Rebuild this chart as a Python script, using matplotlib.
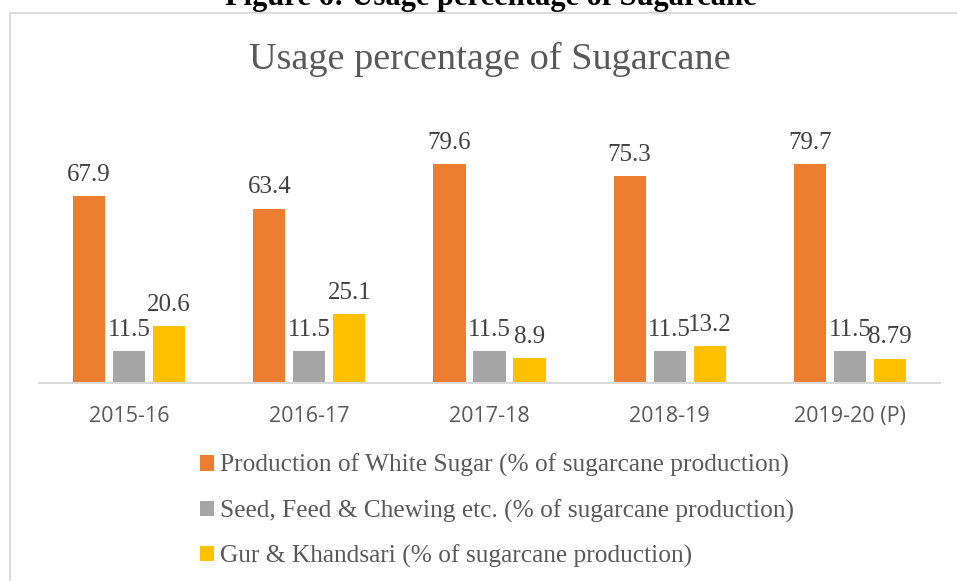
import matplotlib
matplotlib.use("Agg")
import matplotlib.pyplot as plt
from matplotlib.patches import Rectangle, Patch
import numpy as np

categories = ["2015-16", "2016-17", "2017-18", "2018-19", "2019-20 (P)"]
white_sugar = [67.9, 63.4, 79.6, 75.3, 79.7]
seed_feed = [11.5, 11.5, 11.5, 11.5, 11.5]
gur_khandsari = [20.6, 25.1, 8.9, 13.2, 8.79]
series_names = [
    "Production of White Sugar (% of sugarcane production)",
    "Seed, Feed & Chewing etc. (% of sugarcane production)",
    "Gur & Khandsari (% of sugarcane production)",
]
label_texts = [
    ["67.9", "63.4", "79.6", "75.3", "79.7"],
    ["11.5", "11.5", "11.5", "11.5", "11.5"],
    ["20.6", "25.1", "8.9", "13.2", "8.79"],
]
colors = ["#ED7D31", "#A5A5A5", "#FFC000"]

W, H = 957, 581
fig = plt.figure(figsize=(W / 100, H / 100), dpi=100)
fig.patch.set_facecolor("white")

def fx(px):
    return px / W

def fy(py):
    return 1 - py / H

# chart border
fig.patches.append(Rectangle((fx(9.5), fy(H + 20)), fx(W + 20), (H + 20 - 12.5) / H,
                             transform=fig.transFigure, fill=False,
                             edgecolor="#D9D9D9", linewidth=1.3, zorder=0))

# cut-off caption at top
fig.text(fx(491), fy(5), "Figure 6: Usage percentage of Sugarcane", ha="center", va="baseline",
         fontsize=22, fontweight="bold", family="Liberation Serif", color="black")

# title
fig.text(fx(490), fy(59), "Usage percentage of Sugarcane", ha="center", va="center",
         fontsize=27.5, family="Liberation Serif", color="#595959")

base_py = 382.7
px_per_unit = 2.744
ymax = 90
ax_h = ymax * px_per_unit
ax = fig.add_axes([fx(39), fy(base_py), fx(940) - fx(39), ax_h / H])
ax.set_xlim(-0.5, len(categories) - 0.5)
ax.set_ylim(0, ymax)

x = np.arange(len(categories))
bw = 0.178
offs = [-0.222, 0.0, 0.222]
data = [white_sugar, seed_feed, gur_khandsari]
for i, (vals, c, name) in enumerate(zip(data, colors, series_names)):
    bars = ax.bar(x + offs[i], vals, width=bw, color=c, label=name, zorder=2)
    for b, t in zip(bars, label_texts[i]):
        ax.annotate(t, (b.get_x() + b.get_width() / 2, b.get_height()),
                    xytext=(0, 11), textcoords="offset points", ha="center", va="baseline",
                    fontsize=18, family="Liberation Serif", color="#404040")

for s in ["top", "left", "right"]:
    ax.spines[s].set_visible(False)
ax.spines["bottom"].set_color("#D9D9D9")
ax.spines["bottom"].set_linewidth(1.5)
ax.set_yticks([])
ax.set_xticks(x)
ax.set_xticklabels(categories, fontsize=15.5, family="Open Sans", color="#595959")
ax.tick_params(axis="x", length=0, pad=17)
ax.set_facecolor("none")

handles = [Patch(facecolor=c, edgecolor="none") for c in colors]
leg = fig.legend(handles, series_names, loc="upper left", bbox_to_anchor=(fx(200), fy(454)),
                 frameon=False, ncol=1, handlelength=0.55, handleheight=0.55, handletextpad=0.25,
                 labelspacing=0.86, borderpad=0, borderaxespad=0,
                 prop={"family": "Liberation Serif", "size": 18.3})
for t in leg.get_texts():
    t.set_color("#595959")

fig.savefig("out.png", dpi=100)
